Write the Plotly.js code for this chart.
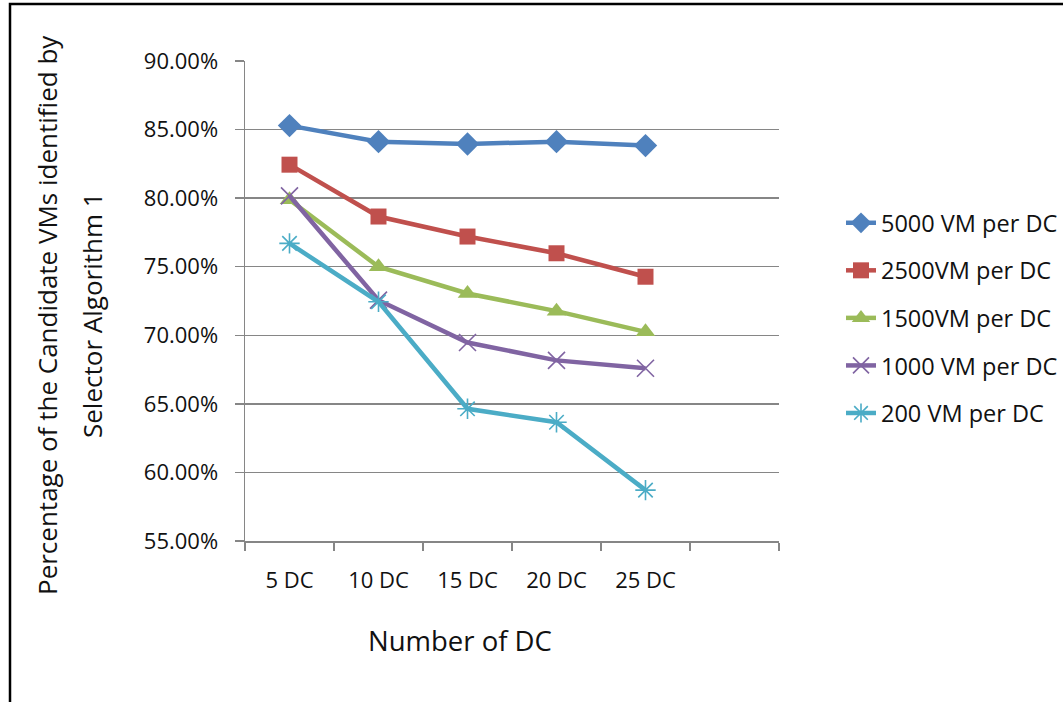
<!DOCTYPE html>
<html>
<head>
<meta charset="utf-8">
<script src="https://cdn.plot.ly/plotly-3.0.1.min.js"></script>
<style>
html,body{margin:0;padding:0;background:#fff;}
#chart{width:1063px;height:702px;}
</style>
</head>
<body>
<div id="chart"></div>
<script>
const categories = ["5 DC", "10 DC", "15 DC", "20 DC", "25 DC"];
const seriesNames = ["5000 VM per DC", "2500VM per DC", "1500VM per DC", "1000 VM per DC", "200 VM per DC"];
const vm5000 = [0.8529, 0.8412, 0.8395, 0.8412, 0.8383];
const vm2500 = [0.8244, 0.7866, 0.7720, 0.7598, 0.7427];
const vm1500 = [0.7988, 0.7500, 0.7305, 0.7176, 0.7025];
const vm1000 = [0.8017, 0.7256, 0.6947, 0.6817, 0.6760];
const vm200  = [0.7670, 0.7244, 0.6464, 0.6366, 0.5871];
const yTitleLines = ["Percentage of the Candidate VMs identified by", "Selector Algorithm 1"];
const xTitle = "Number of DC";

const colors = ["#4F81BD", "#C0504D", "#9BBB59", "#8064A2", "#4BACC6"];
const symbols = ["diamond", "square", "triangle-up", "x-thin-open", "asterisk-open"];
const sizes = [18, 16, 17, 17, 17];
const allSeries = [vm5000, vm2500, vm1500, vm1000, vm200];
const xIdx = categories.map((c, i) => i + 1);

const traces = allSeries.map((vals, i) => ({
  type: "scatter",
  mode: "lines+markers",
  name: seriesNames[i],
  x: xIdx,
  y: vals,
  legendgroup: "g" + i,
  line: {color: colors[i], width: 4.5},
  marker: {
    symbol: symbols[i],
    size: sizes[i],
    color: colors[i],
    line: {color: colors[i], width: (i >= 3 ? 1.6 : 0)}
  }
}));

const W = 1063, H = 702;
const L = 245, R = 779, T = 61, B = 541;
const px2x = px => (px - L) / (R - L);
const px2y = py => (B - py) / (B - T);

const layout = {
  width: W, height: H,
  margin: {l: L, r: W - R, t: T, b: H - B, pad: 0, autoexpand: false},
  paper_bgcolor: "#ffffff",
  plot_bgcolor: "#ffffff",
  font: {family: "Open Sans, sans-serif", color: "#111111", size: 22},
  showlegend: true,
  legend: {
    xref: "container", yref: "container",
    x: 841 / W, xanchor: "left",
    y: 1 - 201 / H, yanchor: "top",
    font: {size: 23.5, color: "#111111"},
    tracegroupgap: 14,
    bgcolor: "rgba(0,0,0,0)"
  },
  xaxis: {
    range: [0.5, 6.5],
    tickmode: "array",
    tickvals: xIdx,
    ticktext: categories,
    ticks: "",
    showgrid: false,
    zeroline: false,
    showline: true,
    linecolor: "#868686",
    linewidth: 1.5,
    ticklabelstandoff: 19,
    tickfont: {size: 22},
    minor: {tick0: 0.5, dtick: 1, ticks: "outside", ticklen: 8, tickcolor: "#868686", tickwidth: 1.5, showgrid: false}
  },
  yaxis: {
    range: [0.55, 0.90],
    tickmode: "linear",
    tick0: 0.55,
    dtick: 0.05,
    tickformat: ".2%",
    ticks: "outside",
    ticklen: 9,
    tickcolor: "#868686",
    tickwidth: 1.5,
    showgrid: true,
    gridcolor: "#868686",
    gridwidth: 1.5,
    zeroline: false,
    showline: true,
    linecolor: "#868686",
    linewidth: 1.5,
    ticklabelstandoff: 12,
    tickfont: {size: 22}
  },
  annotations: [
    {text: yTitleLines[0], xref: "paper", yref: "paper", x: px2x(47), y: px2y(315), xanchor: "center", yanchor: "middle", textangle: -90, showarrow: false, font: {size: 26}},
    {text: yTitleLines[1], xref: "paper", yref: "paper", x: px2x(92), y: px2y(315), xanchor: "center", yanchor: "middle", textangle: -90, showarrow: false, font: {size: 26}},
    {text: xTitle, xref: "paper", yref: "paper", x: px2x(460), y: px2y(640), xanchor: "center", yanchor: "middle", showarrow: false, font: {size: 27.5}}
  ],
  shapes: [
    {type: "rect", xref: "paper", yref: "paper", x0: px2x(10), x1: px2x(1080), y0: px2y(720), y1: px2y(4), line: {color: "#000", width: 2.5}, fillcolor: "rgba(0,0,0,0)", layer: "above"}
  ]
};

Plotly.newPlot("chart", traces, layout, {displayModeBar: false, staticPlot: true});
</script>
</body>
</html>
